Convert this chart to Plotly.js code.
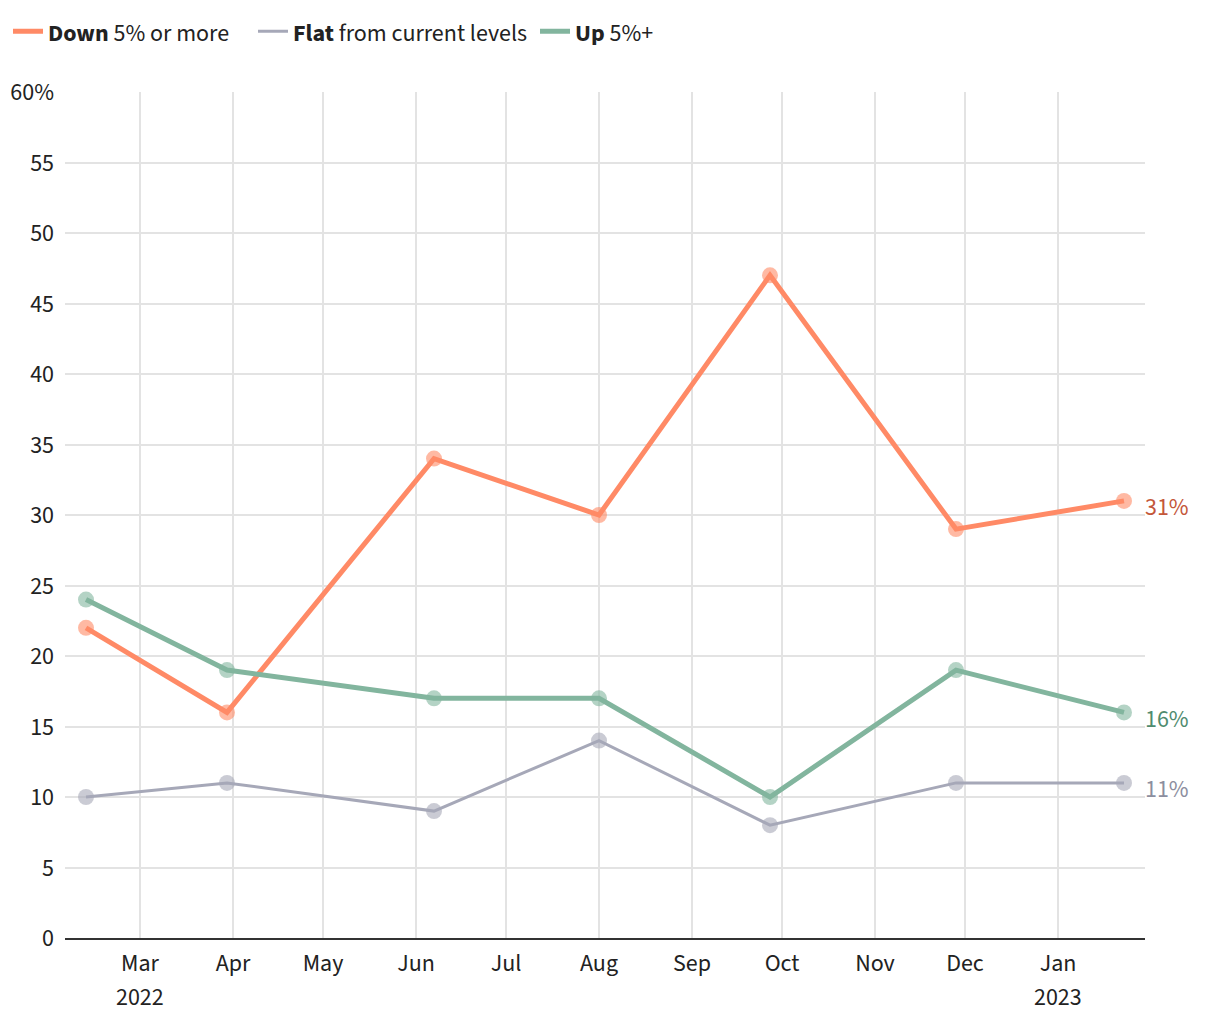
<!DOCTYPE html>
<html>
<head>
<meta charset="utf-8">
<script src="https://cdn.plot.ly/plotly-3.0.1.min.js"></script>
<style>
  html, body { margin: 0; padding: 0; background: #ffffff; }
  #chart { width: 1220px; height: 1020px; }
</style>
</head>
<body>
<div id="chart"></div>
<script>
// Survey dates
const surveyDates = ["2022-02-11", "2022-03-30", "2022-06-07", "2022-08-01", "2022-09-27", "2022-11-28", "2023-01-23"];

// Series values (%)
const downValues = [22, 16, 34, 30, 47, 29, 31];
const flatValues = [10, 11, 9, 14, 8, 11, 11];
const upValues   = [24, 19, 17, 17, 10, 19, 16];

// Series names (legend)
const seriesNames = ["<b>Down</b> 5% or more", "<b>Flat</b> from current levels", "<b>Up</b> 5%+"];

// Tick labels
const xTickVals = ["2022-03-01", "2022-04-01", "2022-05-01", "2022-06-01", "2022-07-01", "2022-08-01", "2022-09-01", "2022-10-01", "2022-11-01", "2022-12-01", "2023-01-01"];
const xTickText = ["Mar", "Apr", "May", "Jun", "Jul", "Aug", "Sep", "Oct", "Nov", "Dec", "Jan"];
const yearTickVals = ["2022-03-01", "2023-01-01"];
const yearTickText = ["2022", "2023"];
const yTickVals = [0, 5, 10, 15, 20, 25, 30, 35, 40, 45, 50, 55, 60];
const yTickText = ["0", "5", "10", "15", "20", "25", "30", "35", "40", "45", "50", "55", "60%"];

const FONT = "'Source Sans Pro', 'Source Sans 3', Lato, 'Noto Sans', sans-serif";

const colors = { down: "#ff8a66", flat: "#a6a8b8", up: "#82b59e" };
const labelColors = { down: "#c4573a", flat: "#8c8e9e", up: "#4f8b6e" };
const widths = { down: 5, flat: 3, up: 5 };

function markerTrace(values, color) {
  return {
    type: "scatter", mode: "markers", x: surveyDates, y: values,
    marker: { color: color, size: 16, opacity: 0.6 },
    showlegend: false, hoverinfo: "skip"
  };
}
function lineTrace(name, values, color, width, legendId) {
  return {
    type: "scatter", mode: "lines", name: name, x: surveyDates, y: values,
    line: { color: color, width: width }, hoverinfo: "x+y", legend: legendId
  };
}

const data = [
  markerTrace(downValues, colors.down),
  markerTrace(flatValues, colors.flat),
  markerTrace(upValues, colors.up),
  lineTrace(seriesNames[0], downValues, colors.down, widths.down, "legend"),
  lineTrace(seriesNames[1], flatValues, colors.flat, widths.flat, "legend2"),
  lineTrace(seriesNames[2], upValues, colors.up, widths.up, "legend3")
];

const last = surveyDates.length - 1;
function endLabel(values, color) {
  return {
    x: surveyDates[last], y: values[last], xref: "x", yref: "y",
    text: values[last] + "%", showarrow: false,
    xanchor: "left", yanchor: "middle", xshift: 19, yshift: -7,
    font: { family: FONT, size: 24, color: color }
  };
}
function yearLabel(i) {
  return {
    x: yearTickVals[i], y: 0, xref: "x", yref: "paper",
    text: yearTickText[i], showarrow: false,
    xanchor: "center", yanchor: "middle", yshift: -59,
    font: { family: FONT, size: 24, color: "#222222" }
  };
}

function legendAt(xpx) {
  return {
    orientation: "h",
    xref: "container", yref: "container",
    x: xpx / 1220, y: 0.991, xanchor: "left", yanchor: "top",
    font: { family: FONT, size: 24, color: "#222222" },
    itemwidth: 30,
    bgcolor: "rgba(0,0,0,0)"
  };
}

const layout = {
  width: 1220,
  height: 1020,
  paper_bgcolor: "#ffffff",
  plot_bgcolor: "#ffffff",
  margin: { l: 65, r: 75, t: 92, b: 82 },
  font: { family: FONT, size: 24, color: "#222222" },
  showlegend: true,
  legend: legendAt(8),
  legend2: legendAt(253),
  legend3: legendAt(535),
  xaxis: {
    type: "date",
    range: ["2022-02-04", "2023-01-30"],
    tickvals: xTickVals,
    ticktext: xTickText,
    showgrid: true,
    gridcolor: "#e3e3e3",
    gridwidth: 1.5,
    zeroline: false,
    showline: true,
    linecolor: "#333333",
    linewidth: 2,
    ticks: "",
    ticklabelstandoff: 2,
    tickfont: { family: FONT, size: 24, color: "#222222" },
    fixedrange: true
  },
  yaxis: {
    range: [0, 60],
    tickvals: yTickVals,
    ticktext: yTickText,
    showgrid: true,
    gridcolor: "#e3e3e3",
    gridwidth: 1.5,
    zeroline: false,
    showline: false,
    ticks: "",
    ticklabelstandoff: 10,
    tickfont: { family: FONT, size: 24, color: "#222222" },
    fixedrange: true
  },
  annotations: [
    endLabel(downValues, labelColors.down),
    endLabel(upValues, labelColors.up),
    endLabel(flatValues, labelColors.flat),
    yearLabel(0),
    yearLabel(1)
  ]
};

Plotly.newPlot("chart", data, layout, { displayModeBar: false, responsive: false });
</script>
</body>
</html>
